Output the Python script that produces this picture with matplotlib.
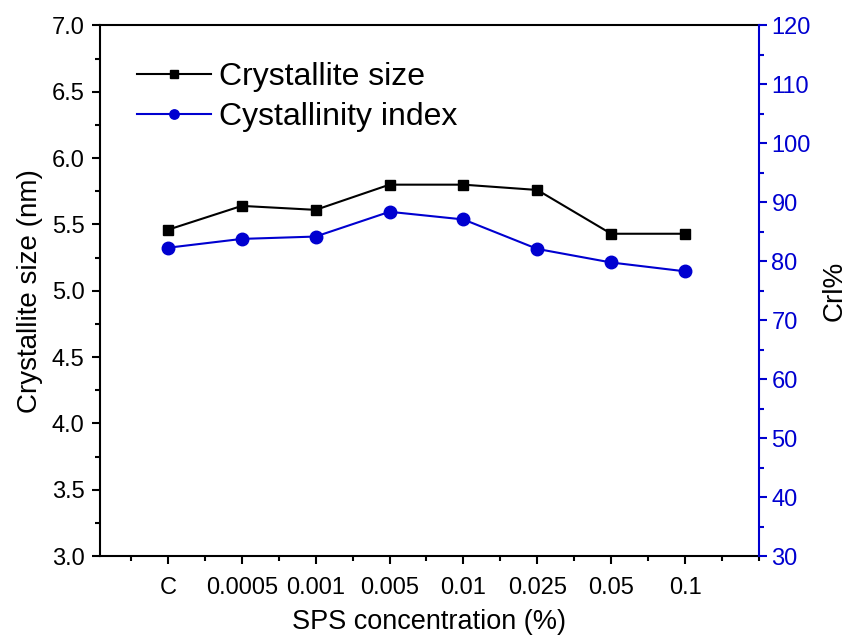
import matplotlib.pyplot as plt
from matplotlib.ticker import MultipleLocator

plt.rcParams['font.family'] = ['Liberation Sans', 'DejaVu Sans']

categories = ['C', '0.0005', '0.001', '0.005', '0.01', '0.025', '0.05', '0.1']
crystallite_size = [5.46, 5.64, 5.61, 5.80, 5.80, 5.76, 5.43, 5.43]
crystallinity_index = [82.3, 83.8, 84.2, 88.4, 87.1, 82.1, 79.8, 78.3]

blue = '#0000D0'
x = list(range(1, len(categories) + 1))

fig = plt.figure(figsize=(8.47, 6.37), dpi=100)
ax = fig.add_axes([0.118, 0.127, 0.778, 0.833])
ax2 = ax.twinx()

l1, = ax.plot(x, crystallite_size, color='black', lw=1.5, marker='s', ms=7.5,
              label='Crystallite size')
l2, = ax2.plot(x, crystallinity_index, color=blue, lw=1.5, marker='o', ms=9,
               label='Cystallinity index')

ax.set_xlim(0.08, 9)
ax.set_ylim(3.0, 7.0)
ax2.set_ylim(30, 120)

ax.set_xticks(x)
ax.set_xticklabels(categories)
ax.xaxis.set_minor_locator(MultipleLocator(0.5))
ax.yaxis.set_major_locator(MultipleLocator(0.5))
ax.yaxis.set_minor_locator(MultipleLocator(0.25))
ax2.yaxis.set_major_locator(MultipleLocator(10))
ax2.yaxis.set_minor_locator(MultipleLocator(5))
ax.yaxis.set_major_formatter(plt.FormatStrFormatter('%.1f'))

ax.tick_params(which='major', direction='out', length=6, width=1.5, labelsize=17,
               top=False, pad=5)
ax.tick_params(axis='x', which='major', pad=9)
ax.tick_params(which='minor', direction='out', length=3.5, width=1.5, top=False)
ax2.tick_params(which='major', direction='out', length=6, width=1.5, labelsize=17,
                colors=blue, pad=3)
ax2.tick_params(which='minor', direction='out', length=3.5, width=1.5, colors=blue)

for s in ['left', 'bottom', 'top']:
    ax.spines[s].set_linewidth(1.5)
ax.spines['right'].set_visible(False)
ax2.spines['right'].set_color(blue)
ax2.spines['right'].set_linewidth(1.5)
ax2.spines['top'].set_visible(False)
ax2.spines['left'].set_visible(False)
ax2.spines['bottom'].set_visible(False)

ax.set_xlabel('SPS concentration (%)', fontsize=19.5, labelpad=7)
ax.set_ylabel('Crystallite size (nm)', fontsize=20, labelpad=6)
ax2.set_ylabel('Crl%', fontsize=20, color='black', labelpad=8)

ax.legend(handles=[l1, l2], loc='upper left', bbox_to_anchor=(0.013, 0.985),
          frameon=False, fontsize=23, handlelength=2.3, handletextpad=0.25,
          labelspacing=0.3, markerscale=0.75)

fig.savefig('out.png', dpi=100)
